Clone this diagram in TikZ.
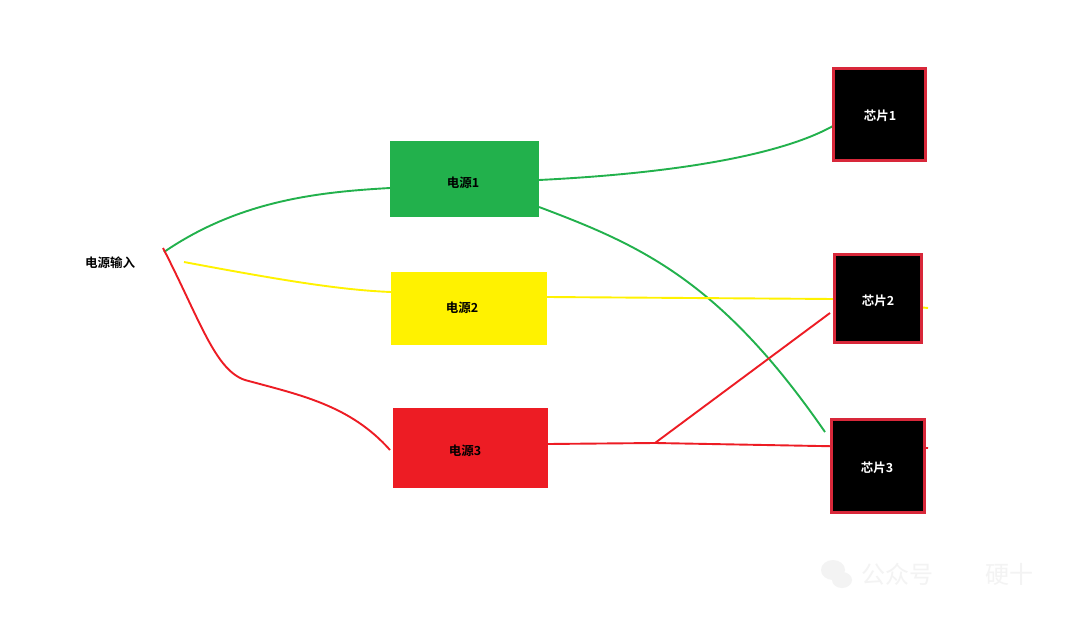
\documentclass[tikz,border=0pt]{standalone}
\usepackage{fontspec}
\newfontfamily\cjk{Noto Sans CJK SC}[BoldFont={Noto Sans CJK SC Bold}]
\definecolor{pgreen}{HTML}{22B14C}
\definecolor{pyellow}{HTML}{FFF200}
\definecolor{pred}{HTML}{ED1C24}
\definecolor{cborder}{HTML}{D8283A}
\definecolor{wm}{HTML}{F3F3F3}
\begin{document}
\begin{tikzpicture}[x=1pt,y=-1pt,
  lbl/.style={font=\cjk\bfseries\fontsize{12.5}{14}\selectfont},
  psbox/.style={draw=none,inner sep=0pt},
  chipbox/.style={draw=cborder,line width=2.2pt,fill=black,inner sep=0pt},
  wire/.style={line width=1.9pt}]
\useasboundingbox (0,0) rectangle (1080,618);
\fill[white] (0,0) rectangle (1080,618);
% coordinates
\coordinate (ing) at (164,252);
\coordinate (iny) at (184,262);
\coordinate (inr) at (163,248);
\coordinate (j) at (655,443);
\coordinate (yend) at (928,308);
\coordinate (rend) at (928,448);
\coordinate (c2l) at (830,313);
\coordinate (g3) at (825,432);
\node[lbl] (input) at (110,263) {电源输入};
% wires
\draw[wire,pgreen] (ing) .. controls (240,200) and (320,192) .. (390,188);
\draw[wire,pgreen] (539,180) .. controls (700,172) and (790,150) .. (833,126);
\draw[wire,pgreen] (539,207) .. controls (640,245) and (720,280) .. (g3);
\draw[wire,pyellow] (iny) .. controls (280,280) and (340,290) .. (391,292);
\draw[wire,pyellow] (547,297) -- (834,299) -- (yend);
\draw[wire,pred] (inr) .. controls (200,320) and (215,370) .. (245,380)
   .. controls (300,395) and (350,405) .. (390,450);
\draw[wire,pred] (548,444) -- (j) -- (rend);
\draw[wire,pred] (j) -- (c2l);
% power boxes
\node[psbox,fill=pgreen,minimum width=149pt,minimum height=76pt] (p1) at (464.5,179) {};
\node[psbox,fill=pyellow,minimum width=156pt,minimum height=73pt] (p2) at (469,308.5) {};
\node[psbox,fill=pred,minimum width=155pt,minimum height=80pt] (p3) at (470.5,448) {};
\node[lbl] (p1t) at (463,183) {电源1};
\node[lbl] (p2t) at (462,308) {电源2};
\node[lbl] (p3t) at (465,451) {电源3};
% chips
\node[chipbox,minimum width=92pt,minimum height=92pt] (c1) at (879.5,114.5) {};
\node[chipbox,minimum width=87pt,minimum height=88pt] (c2) at (878,298.5) {};
\node[chipbox,minimum width=93pt,minimum height=93pt] (c3) at (878,466) {};
\node[lbl,text=white] (c1t) at (880,116) {芯片1};
\node[lbl,text=white] (c2t) at (878,301) {芯片2};
\node[lbl,text=white] (c3t) at (877,468) {芯片3};
% watermark
\node[text=wm,font=\cjk\fontsize{24}{28}\selectfont,anchor=west] (wm1) at (858,574) {公众号};
\node[text=wm,font=\cjk\fontsize{24}{28}\selectfont,anchor=west] (wm2) at (982,574) {硬十};
\fill[wm] (833,570) ellipse (12pt and 10pt);
\fill[wm] (842,580) ellipse (10pt and 8pt);
\end{tikzpicture}
\end{document}
